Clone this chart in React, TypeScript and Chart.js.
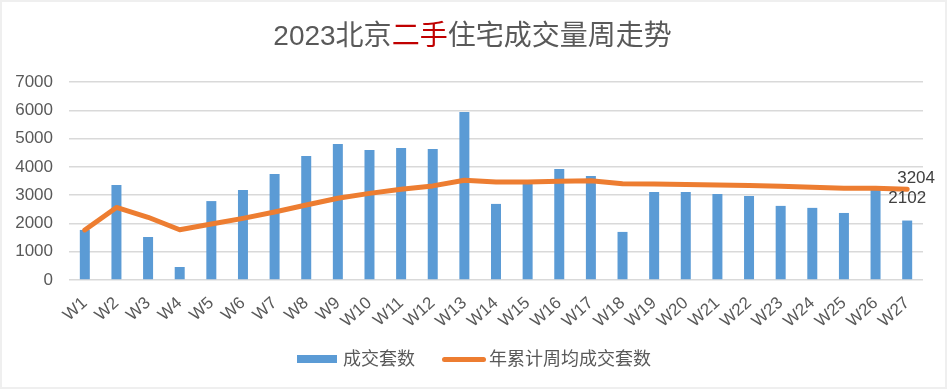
import React, { useEffect, useRef } from 'react';
import { Chart, registerables } from 'chart.js';

Chart.register(...registerables);

const categories = ['W1', 'W2', 'W3', 'W4', 'W5', 'W6', 'W7', 'W8', 'W9', 'W10', 'W11', 'W12', 'W13', 'W14', 'W15', 'W16', 'W17', 'W18', 'W19', 'W20', 'W21', 'W22', 'W23', 'W24', 'W25', 'W26', 'W27'];
const weeklyDeals = [1770, 3360, 1520, 460, 2790, 3180, 3750, 4380, 4810, 4600, 4670, 4630, 5940, 2690, 3450, 3920, 3680, 1700, 3110, 3110, 3040, 2970, 2620, 2550, 2370, 3250, 2102];
const ytdWeeklyAvg = [1770, 2565, 2217, 1778, 1980, 2180, 2404, 2651, 2891, 3062, 3208, 3327, 3528, 3468, 3467, 3495, 3506, 3406, 3390, 3376, 3360, 3342, 3311, 3279, 3243, 3243, 3204];
const yTicks = [0, 1000, 2000, 3000, 4000, 5000, 6000, 7000];
const seriesNames = ['成交套数', '年累计周均成交套数'];
const titleBefore = '2023北京';
const titleHighlight = '二手';
const titleAfter = '住宅成交量周走势';

const FONT = '"Liberation Sans", Arial, "Noto Sans CJK SC", sans-serif';
const BLUE = '#5b9bd5';
const ORANGE = '#ed7d31';

const endLabels = {
  id: 'endLabels',
  afterDatasetsDraw(chart: any) {
    const ctx = chart.ctx;
    const last = categories.length - 1;
    const barPt = chart.getDatasetMeta(0).data[last];
    const linePt = chart.getDatasetMeta(1).data[last];
    ctx.save();
    ctx.font = '17px ' + FONT;
    ctx.fillStyle = '#404040';
    ctx.textBaseline = 'middle';
    ctx.textAlign = 'left';
    ctx.fillText(String(ytdWeeklyAvg[last]), linePt.x - 10, linePt.y - 11);
    ctx.textAlign = 'center';
    ctx.fillText(String(weeklyDeals[last]), barPt.x, barPt.y - 22);
    ctx.restore();
  },
};

export default function App() {
  const ref = useRef<HTMLCanvasElement>(null);

  useEffect(() => {
    if (!ref.current) return;
    const chart = new Chart(ref.current, {
      type: 'bar',
      data: {
        labels: categories,
        datasets: [
          {
            type: 'bar',
            label: seriesNames[0],
            data: weeklyDeals,
            backgroundColor: BLUE,
            barPercentage: 1,
            categoryPercentage: 0.316,
            order: 1,
          },
          {
            type: 'line',
            label: seriesNames[1],
            data: ytdWeeklyAvg,
            borderColor: ORANGE,
            backgroundColor: ORANGE,
            borderWidth: 5,
            pointRadius: 0,
            tension: 0,
            borderCapStyle: 'round',
            borderJoinStyle: 'round',
            order: 0,
          },
        ],
      } as any,
      options: {
        animation: false,
        responsive: false,
        maintainAspectRatio: false,
        layout: { padding: { top: 82, right: 24, bottom: 0, left: 0 } },
        plugins: {
          legend: { display: false },
          title: { display: false },
          tooltip: { enabled: false },
        },
        scales: {
          x: {
            grid: { display: false },
            border: { display: false },
            ticks: {
              color: '#595959',
              font: { family: FONT, size: 17 },
              minRotation: 42,
              maxRotation: 42,
              autoSkip: false,
              padding: 5,
            },
            afterFit(scale: any) {
              scale.height = 109;
            },
          },
          y: {
            min: 0,
            max: 7000,
            afterBuildTicks(scale: any) {
              scale.ticks = yTicks.map((v) => ({ value: v }));
            },
            grid: { color: '#d9d9d9', lineWidth: 1.5, drawTicks: false },
            border: { display: false },
            ticks: {
              color: '#595959',
              font: { family: FONT, size: 17 },
              padding: 16,
              callback: (v: any) => String(v),
            },
            afterFit(scale: any) {
              scale.width = 69;
            },
          },
        },
      } as any,
      plugins: [endLabels],
    });
    return () => chart.destroy();
  }, []);

  return (
    <div style={{ position: 'fixed', left: 0, top: 0, width: 947, height: 389, background: '#efefef', fontFamily: FONT }}>
      <div style={{ position: 'absolute', left: 2, top: 2, width: 943, height: 385, background: '#ffffff' }} />
      <canvas ref={ref} width={947} height={389} style={{ position: 'absolute', left: 0, top: 0, width: 947, height: 389 }} />
      <div style={{ position: 'absolute', left: 0, top: 20, width: 945, textAlign: 'center', fontSize: 28, lineHeight: '32px', color: '#595959', whiteSpace: 'nowrap' }}>
        {titleBefore}
        <span style={{ color: '#c00000' }}>{titleHighlight}</span>
        {titleAfter}
      </div>
      <div style={{ position: 'absolute', left: 297, top: 347, height: 24, display: 'flex', alignItems: 'center', fontSize: 18, lineHeight: '24px', color: '#595959', whiteSpace: 'nowrap' }}>
        <span style={{ display: 'inline-block', width: 40, height: 8, background: BLUE, marginRight: 6 }} />
        <span>{seriesNames[0]}</span>
        <span style={{ display: 'inline-block', width: 44, height: 5, borderRadius: 3, background: ORANGE, marginLeft: 27, marginRight: 3 }} />
        <span>{seriesNames[1]}</span>
      </div>
    </div>
  );
}
